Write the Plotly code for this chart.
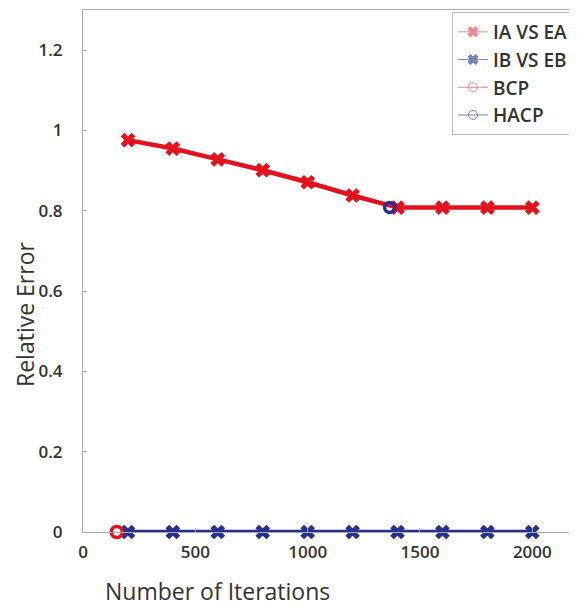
import plotly.graph_objects as go

# ---- data ----
iterations = [200, 400, 600, 800, 1000, 1200, 1400, 1600, 1800, 2000]
ia_vs_ea = [0.976, 0.955, 0.928, 0.901, 0.871, 0.838, 0.808, 0.808, 0.808, 0.808]
ib_vs_eb = [0, 0, 0, 0, 0, 0, 0, 0, 0, 0]
bcp_x = [150]
bcp_y = [0]
hacp_x = [1365]
hacp_y = [0.808]
x_ticks = [0, 500, 1000, 1500, 2000]
y_ticks = [0, 0.2, 0.4, 0.6, 0.8, 1.0, 1.2]
y_tick_text = ["0", "0.2", "0.4", "0.6", "0.8", "1", "1.2"]

RED = "#e3121c"
BLUE = "#26308f"
TXT = "#333333"

# page body adds an 8px margin; layout is computed in window pixels
OFF = 8
W, H = 577 - OFF, 607 - OFF
PL, PR, PT, PB = 83, 575, 10, 532  # plot box in window pixels
ml, mr, mt = PL - OFF, W - (PR - OFF), PT - OFF
mb = H - (PB - OFF)
pw, ph = PR - PL, PB - PT

fig = go.Figure()

fig.add_trace(go.Scatter(x=iterations, y=ia_vs_ea, mode="lines+markers",
                         line=dict(color=RED, width=4.5),
                         marker=dict(symbol="x", size=13, color=RED),
                         cliponaxis=False, showlegend=False))
fig.add_trace(go.Scatter(x=iterations, y=ib_vs_eb, mode="lines+markers",
                         line=dict(color=BLUE, width=4.5),
                         marker=dict(symbol="x", size=13, color=BLUE),
                         cliponaxis=False, showlegend=False))
fig.add_trace(go.Scatter(x=bcp_x, y=bcp_y, mode="markers",
                         marker=dict(symbol="circle-open", size=11, color=RED,
                                     line=dict(width=3.5, color=RED)),
                         cliponaxis=False, showlegend=False))
fig.add_trace(go.Scatter(x=hacp_x, y=hacp_y, mode="markers",
                         marker=dict(symbol="circle-open", size=10, color=BLUE,
                                     line=dict(width=3.5, color=BLUE)),
                         cliponaxis=False, showlegend=False))

legend_items = [("IA VS EA", "#e88a90", "x"), ("IB VS EB", "#7a80c0", "x"),
                ("BCP", "#e88a90", "circle-open"), ("HACP", "#7a80c0", "circle-open")]
for i, (name, col, sym) in enumerate(legend_items):
    fig.add_trace(go.Scatter(x=[None], y=[None], mode="lines+markers", name=name,
                             legendgroup=f"g{i}",
                             line=dict(color=col, width=1),
                             marker=dict(symbol=sym, size=9, color=col,
                                         line=dict(width=1, color=col))))

fig.update_layout(
    width=W, height=H,
    margin=dict(l=ml, r=mr, t=mt, b=mb, autoexpand=False),
    paper_bgcolor="white", plot_bgcolor="white",
    font=dict(family="Open Sans", color=TXT, size=15),
    legend=dict(x=(574 - PL) / pw, y=(PB - 12) / ph, xanchor="right", yanchor="top",
                bgcolor="white", bordercolor="#bbbbbb", borderwidth=1,
                font=dict(family="Open Sans", size=19, color=TXT, weight=600),
                itemwidth=30, tracegroupgap=0, traceorder="grouped"),
    annotations=[
        dict(text="Number of Iterations", x=(217 - PL) / pw, y=-(591 - PB) / ph,
             xref="paper", yref="paper", xanchor="center", yanchor="middle",
             showarrow=False, font=dict(size=23, color=TXT)),
        dict(text="Relative Error", textangle=-90, x=-(PL - 25) / pw, y=(PB - 315) / ph,
             xref="paper", yref="paper", xanchor="center", yanchor="middle",
             showarrow=False, font=dict(size=23, color=TXT)),
    ],
)

fig.update_xaxes(range=[0, 2190], tickvals=x_ticks, ticktext=[str(v) for v in x_ticks],
                 showgrid=False, zeroline=False, showline=True, linecolor="#aaaaaa",
                 linewidth=1, mirror=True, ticks="inside", ticklen=4, tickcolor="#aaaaaa",
                 tickfont=dict(size=17, color=TXT, weight=600), ticklabelstandoff=5)
fig.update_yaxes(range=[0, 1.3], tickvals=y_ticks, ticktext=y_tick_text,
                 showgrid=False, zeroline=False, showline=True, linecolor="#aaaaaa",
                 linewidth=1, mirror=True, ticks="inside", ticklen=4, tickcolor="#aaaaaa",
                 tickfont=dict(size=17, color=TXT, weight=600), ticklabelstandoff=16)

fig.write_html("out.html")
